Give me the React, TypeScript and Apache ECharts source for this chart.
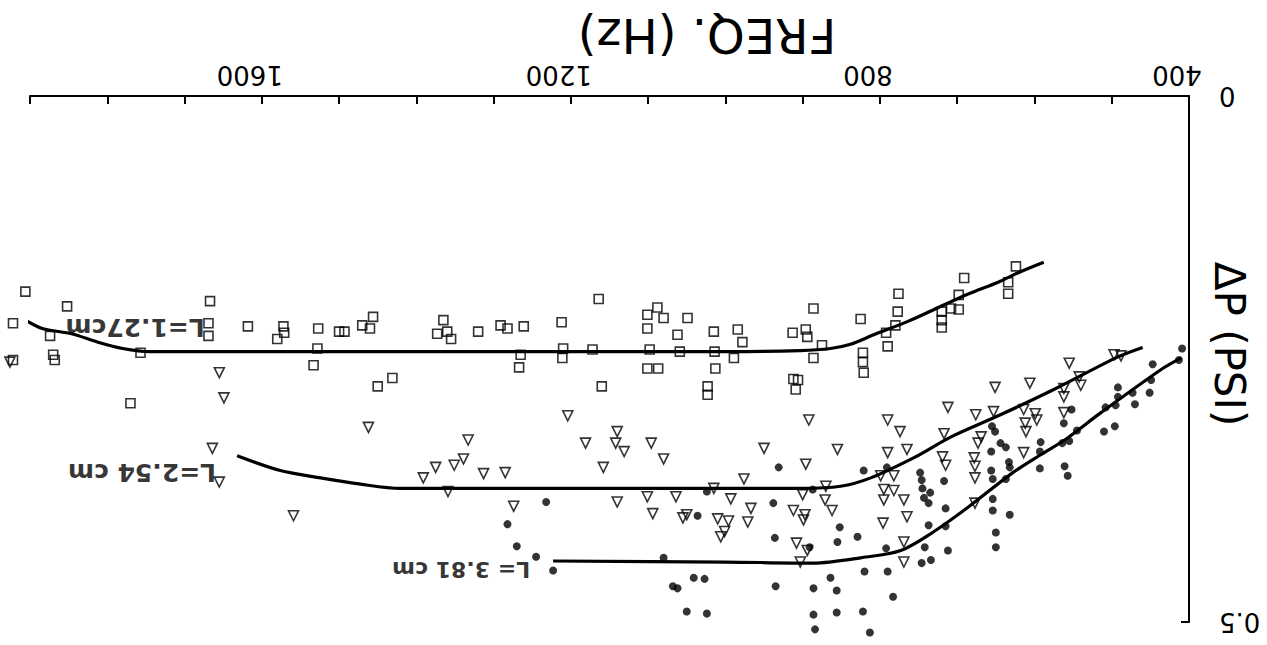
import React, { useEffect, useRef } from "react";
import * as echarts from "echarts";

// Frequency (Hz), ΔP (PSI)
const squares127: [number, number][] = [
  [1906, 0.186], [1852, 0.2], [1922, 0.216], [1874, 0.228], [1870, 0.246], [1868, 0.251], [1922, 0.251],
  [1757, 0.244], [1770, 0.292], [1667, 0.195], [1669, 0.216], [1669, 0.228], [1618, 0.219], [1572, 0.219],
  [1580, 0.231], [1571, 0.225], [1527, 0.221], [1528, 0.24], [1533, 0.256], [1500, 0.224], [1493, 0.224],
  [1470, 0.218], [1460, 0.221], [1456, 0.21], [1450, 0.276], [1431, 0.268], [1365, 0.213], [1373, 0.226],
  [1360, 0.224], [1355, 0.231], [1320, 0.224], [1291, 0.218], [1282, 0.221], [1261, 0.219], [1265, 0.246],
  [1267, 0.258], [1212, 0.215], [1210, 0.24], [1211, 0.249], [1172, 0.241], [1164, 0.193], [1160, 0.276],
  [1101, 0.208], [1088, 0.201], [1080, 0.211], [1101, 0.221], [1098, 0.241], [1101, 0.259], [1087, 0.259],
  [1049, 0.211], [1062, 0.227], [1059, 0.243], [1015, 0.224], [1014, 0.243], [1013, 0.259], [1023, 0.276],
  [1023, 0.284], [984, 0.222], [978, 0.234], [989, 0.249], [913, 0.225], [896, 0.222], [894, 0.229],
  [886, 0.202], [875, 0.237], [886, 0.249], [912, 0.269], [906, 0.27], [909, 0.279], [825, 0.212],
  [822, 0.244], [822, 0.253], [821, 0.263], [792, 0.225], [790, 0.238], [776, 0.188], [777, 0.205],
  [780, 0.218], [720, 0.205], [720, 0.213], [720, 0.22], [708, 0.202], [698, 0.203], [698, 0.189],
  [691, 0.173], [634, 0.177], [634, 0.188], [624, 0.162],
];

const triangles254: [number, number][] = [
  [1926, 0.253], [1655, 0.263], [1649, 0.287], [1664, 0.335], [1655, 0.367], [1559, 0.399], [1462, 0.315],
  [1333, 0.327], [1391, 0.363], [1375, 0.353], [1351, 0.351], [1339, 0.345], [1359, 0.376], [1313, 0.359],
  [1285, 0.358], [1274, 0.39], [1204, 0.304], [1181, 0.33], [1140, 0.319], [1142, 0.33], [1131, 0.338],
  [1158, 0.353], [1096, 0.33], [1080, 0.345], [1140, 0.386], [1101, 0.381], [1064, 0.381], [1094, 0.397],
  [1055, 0.401], [1050, 0.398], [1015, 0.373], [993, 0.383], [1010, 0.402], [996, 0.404], [1006, 0.419],
  [1001, 0.414], [976, 0.364], [967, 0.392], [971, 0.405], [950, 0.335], [892, 0.308], [896, 0.35],
  [900, 0.379], [870, 0.371], [871, 0.384], [862, 0.394], [912, 0.394], [897, 0.398], [899, 0.403],
  [908, 0.425], [894, 0.432], [903, 0.443], [855, 0.336], [790, 0.339], [765, 0.336], [799, 0.361],
  [782, 0.361], [795, 0.374], [782, 0.375], [795, 0.384], [769, 0.384], [796, 0.406], [765, 0.4],
  [769, 0.424], [769, 0.443], [712, 0.296], [790, 0.308], [774, 0.319], [717, 0.321], [719, 0.343],
  [715, 0.351], [676, 0.303], [673, 0.33], [678, 0.344], [677, 0.352], [677, 0.363], [669, 0.324],
  [653, 0.3], [614, 0.298], [612, 0.311], [611, 0.319], [614, 0.339], [599, 0.302], [597, 0.308],
  [562, 0.301], [677, 0.387], [555, 0.254], [606, 0.273], [651, 0.277], [562, 0.278], [562, 0.286],
  [542, 0.267], [540, 0.275], [497, 0.246], [488, 0.247],
];

const dots381: [number, number][] = [
  [1232, 0.386], [1282, 0.407], [1270, 0.428], [1245, 0.438], [1223, 0.451], [1080, 0.439], [1024, 0.376],
  [1036, 0.399], [1041, 0.458], [1027, 0.459], [1062, 0.468], [1068, 0.466], [1050, 0.49], [1024, 0.492],
  [931, 0.353], [938, 0.387], [936, 0.42], [935, 0.466], [887, 0.374], [891, 0.429], [864, 0.458],
  [886, 0.468], [856, 0.47], [886, 0.493], [856, 0.491], [884, 0.507], [852, 0.41], [855, 0.424],
  [829, 0.419], [822, 0.49], [813, 0.51], [783, 0.476], [820, 0.452], [790, 0.452], [792, 0.43],
  [821, 0.356], [791, 0.353], [748, 0.358], [746, 0.365], [745, 0.373], [717, 0.366], [735, 0.377],
  [743, 0.382], [737, 0.387], [715, 0.392], [737, 0.408], [715, 0.409], [742, 0.429], [712, 0.432],
  [746, 0.444], [734, 0.441], [655, 0.314], [651, 0.319], [656, 0.338], [644, 0.33], [637, 0.334],
  [633, 0.348], [632, 0.353], [656, 0.356], [654, 0.364], [637, 0.364], [654, 0.383], [654, 0.394],
  [632, 0.398], [650, 0.415], [650, 0.429], [592, 0.329], [593, 0.338], [593, 0.354], [564, 0.33],
  [555, 0.328], [561, 0.352], [557, 0.361], [552, 0.298], [562, 0.311], [545, 0.318], [510, 0.319],
  [496, 0.314], [508, 0.296], [495, 0.294], [470, 0.293], [492, 0.277], [492, 0.286], [473, 0.282],
  [447, 0.255], [449, 0.27], [451, 0.282], [409, 0.24], [413, 0.251],
];

const fit127: [number, number][] = [
  [588, 0.158], [618, 0.167], [647, 0.177], [685, 0.188], [730, 0.203], [763, 0.214], [808, 0.227],
  [838, 0.236], [864, 0.24], [903, 0.242], [1000, 0.243], [1300, 0.243], [1550, 0.243], [1745, 0.243],
  [1780, 0.24], [1812, 0.234], [1846, 0.226], [1884, 0.221], [1906, 0.213],
];

const fit254: [number, number][] = [
  [460, 0.239], [492, 0.248], [575, 0.279], [644, 0.303], [708, 0.324], [754, 0.343], [812, 0.363],
  [851, 0.371], [903, 0.373], [1100, 0.373], [1421, 0.373], [1472, 0.369], [1524, 0.363], [1576, 0.356],
  [1632, 0.342],
];

const fit381: [number, number][] = [
  [410, 0.249], [436, 0.26], [514, 0.301], [559, 0.326], [592, 0.341], [628, 0.358], [686, 0.391],
  [730, 0.414], [773, 0.432], [825, 0.439], [886, 0.444], [1000, 0.443], [1223, 0.442],
];

const curveNames = ["L=1.27cm", "L=2.54 cm", "L= 3.81 cm"];
const curveLabelPos: [number, number][] = [[1764, 0.22], [1755, 0.358], [1342, 0.45]];
const curveLabelSizes = [25, 25, 22];

const xShownLabels = [400, 800, 1200, 1600];
const xTitle = "FREQ. (Hz)";
const yTitle = "ΔP (PSI)";

export default function App() {
  const ref = useRef<HTMLDivElement>(null);
  useEffect(() => {
    if (!ref.current) return;
    const chart = echarts.init(ref.current, null, { renderer: "svg" });
    const font = "DejaVu Sans";
    const lineSeries = (data: [number, number][]) => ({
      type: "line",
      data,
      smooth: 0.3,
      showSymbol: false,
      symbol: "none",
      clip: false,
      lineStyle: { color: "#000", width: 3.2 },
      z: 1,
    });
    chart.setOption({
      animation: false,
      backgroundColor: "#fff",
      grid: { left: 30, right: 78, top: 96, bottom: 23, containLabel: false },
      xAxis: {
        type: "value",
        min: 400,
        max: 1900,
        interval: 100,
        inverse: true,
        position: "top",
        axisLine: { show: true, lineStyle: { color: "#000", width: 2 } },
        axisTick: { show: true, inside: true, length: 8, lineStyle: { color: "#000", width: 2 } },
        axisLabel: {
          rotate: 180,
          margin: 8,
          color: "#000",
          fontSize: 26,
          fontFamily: font,
          padding: [0, 0, 0, 24],
          formatter: (v: number) => (xShownLabels.includes(Math.round(v)) ? String(Math.round(v)) : ""),
        },
        splitLine: { show: false },
      },
      yAxis: {
        type: "value",
        min: 0,
        max: 0.5,
        interval: 0.5,
        inverse: true,
        position: "right",
        axisLine: { show: true, lineStyle: { color: "#000", width: 2 } },
        axisTick: { show: true, inside: true, length: 8, lineStyle: { color: "#000", width: 2 } },
        axisLabel: {
          rotate: 180,
          margin: 30,
          color: "#000",
          fontSize: 26,
          fontFamily: font,
          formatter: (v: number) => (v === 0 ? "0" : String(v)),
        },
        splitLine: { show: false },
      },
      graphic: [
        {
          type: "text",
          x: 707,
          y: 36,
          rotation: Math.PI,
          style: { text: xTitle, fontSize: 48, fontFamily: font, fill: "#000", align: "center", verticalAlign: "middle" },
        },
        {
          type: "text",
          x: 1229,
          y: 344,
          rotation: -Math.PI / 2,
          style: { text: yTitle, fontSize: 42, fontFamily: font, fill: "#000", align: "center", verticalAlign: "middle" },
        },
      ],
      series: [
        lineSeries(fit127),
        lineSeries(fit254),
        lineSeries(fit381),
        {
          type: "scatter",
          data: squares127,
          symbol: "rect",
          symbolSize: 9,
          clip: false,
          itemStyle: { color: "rgba(0,0,0,0)", borderColor: "#000", borderWidth: 1.6 },
          z: 3,
        },
        {
          type: "scatter",
          data: triangles254,
          symbol: "triangle",
          symbolRotate: 180,
          symbolSize: 10,
          clip: false,
          itemStyle: { color: "rgba(0,0,0,0)", borderColor: "#000", borderWidth: 1.6 },
          z: 3,
        },
        {
          type: "scatter",
          data: dots381,
          symbol: "circle",
          symbolSize: 8,
          clip: false,
          itemStyle: { color: "#000" },
          z: 3,
        },
        {
          type: "scatter",
          data: curveNames.map((n, i) => ({
            name: n,
            value: curveLabelPos[i],
            label: { fontSize: curveLabelSizes[i] },
          })),
          symbolSize: 1,
          itemStyle: { color: "rgba(0,0,0,0)" },
          clip: false,
          label: {
            show: true,
            position: "inside",
            rotate: 180,
            formatter: "{b}",
            color: "#000",
            fontWeight: "bold",
            fontFamily: font,
          },
          z: 4,
        },
      ],
    });
    return () => chart.dispose();
  }, []);
  return (
    <div
      ref={ref}
      style={{ position: "fixed", left: 0, top: 0, width: 1267, height: 645, background: "#fff" }}
    />
  );
}
